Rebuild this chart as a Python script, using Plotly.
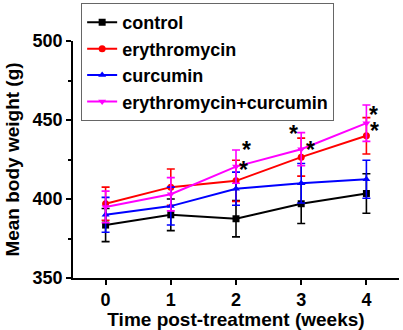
import plotly.graph_objects as go

weeks = [0, 1, 2, 3, 4]
series_names = ["control", "erythromycin", "curcumin", "erythromycin+curcumin"]
control = [383.5, 390, 387.5, 397, 403.5]
control_err = [10.5, 10, 11.5, 12.5, 12.5]
erythro = [397, 407.5, 411.5, 426.5, 440]
erythro_err = [10.5, 11.5, 13, 12, 11.5]
curcumin = [390, 395.5, 406.5, 410, 412.5]
curcumin_err = [11, 12, 10.5, 12.5, 12]
combo = [395, 403, 420.5, 431.5, 448]
combo_err = [10, 10.5, 10.5, 10.5, 11.5]
star_x = [2.16, 2.11, 2.88, 3.14, 4.11, 4.12]
star_y = [429.5, 417, 439.5, 429.5, 451.5, 441.5]

colors = ["#000000", "#FF0000", "#0000FF", "#FF00FF"]
symbols = ["square", "circle", "triangle-up", "triangle-down"]
values = [control, erythro, curcumin, combo]
errs = [control_err, erythro_err, curcumin_err, combo_err]

font = "Liberation Sans, Arial, sans-serif"
fig = go.Figure()
for name, v, e, c, s in zip(series_names, values, errs, colors, symbols):
    fig.add_trace(go.Scatter(
        x=weeks, y=v, name=name, mode="lines+markers",
        line=dict(color=c, width=2),
        marker=dict(symbol=s, size=7, color=c),
        error_y=dict(type="data", array=e, visible=True, color=c, thickness=1.6, width=4),
    ))

for x, y in zip(star_x, star_y):
    fig.add_annotation(x=x, y=y + 1.5, text="*", showarrow=False,
                       font=dict(family=font, size=23, color="black", weight="bold"),
                       xanchor="center", yanchor="middle")

fig.update_layout(
    width=403, height=330,
    margin=dict(l=73, r=4, t=40, b=52),
    plot_bgcolor="white", paper_bgcolor="white",
    font=dict(family=font, size=18, color="black", weight="bold"),
    showlegend=True,
    legend=dict(x=0.025, y=1.155, xanchor="left", yanchor="top",
                bordercolor="#666666", borderwidth=1, bgcolor="white",
                font=dict(family=font, size=18, color="black", weight="bold"),
                tracegroupgap=0, itemwidth=30),
    xaxis=dict(range=[-0.5, 4.5], tickvals=weeks, ticktext=[str(w) for w in weeks],
               showgrid=False, zeroline=False, showline=True, linecolor="black", linewidth=1.5,
               ticks="outside", ticklen=5, tickwidth=1.5, tickcolor="black",
               title=dict(text="Time post-treatment (weeks)", standoff=0,
                          font=dict(family=font, size=19, weight="bold"))),
    yaxis=dict(range=[350, 500], tickvals=[350, 400, 450, 500],
               showgrid=False, zeroline=False, showline=True, linecolor="black", linewidth=1.5,
               ticks="outside", ticklen=5, tickwidth=1.5, tickcolor="black",
               minor=dict(tickvals=[375, 425, 475], ticks="outside", ticklen=3, tickwidth=1.5, tickcolor="black"),
               title=dict(text="Mean body weight (g)", standoff=8,
                          font=dict(family=font, size=19, weight="bold"))),
)

fig.write_html("out.html", config={"displayModeBar": False},
               post_script="document.body.style.margin='0';")
